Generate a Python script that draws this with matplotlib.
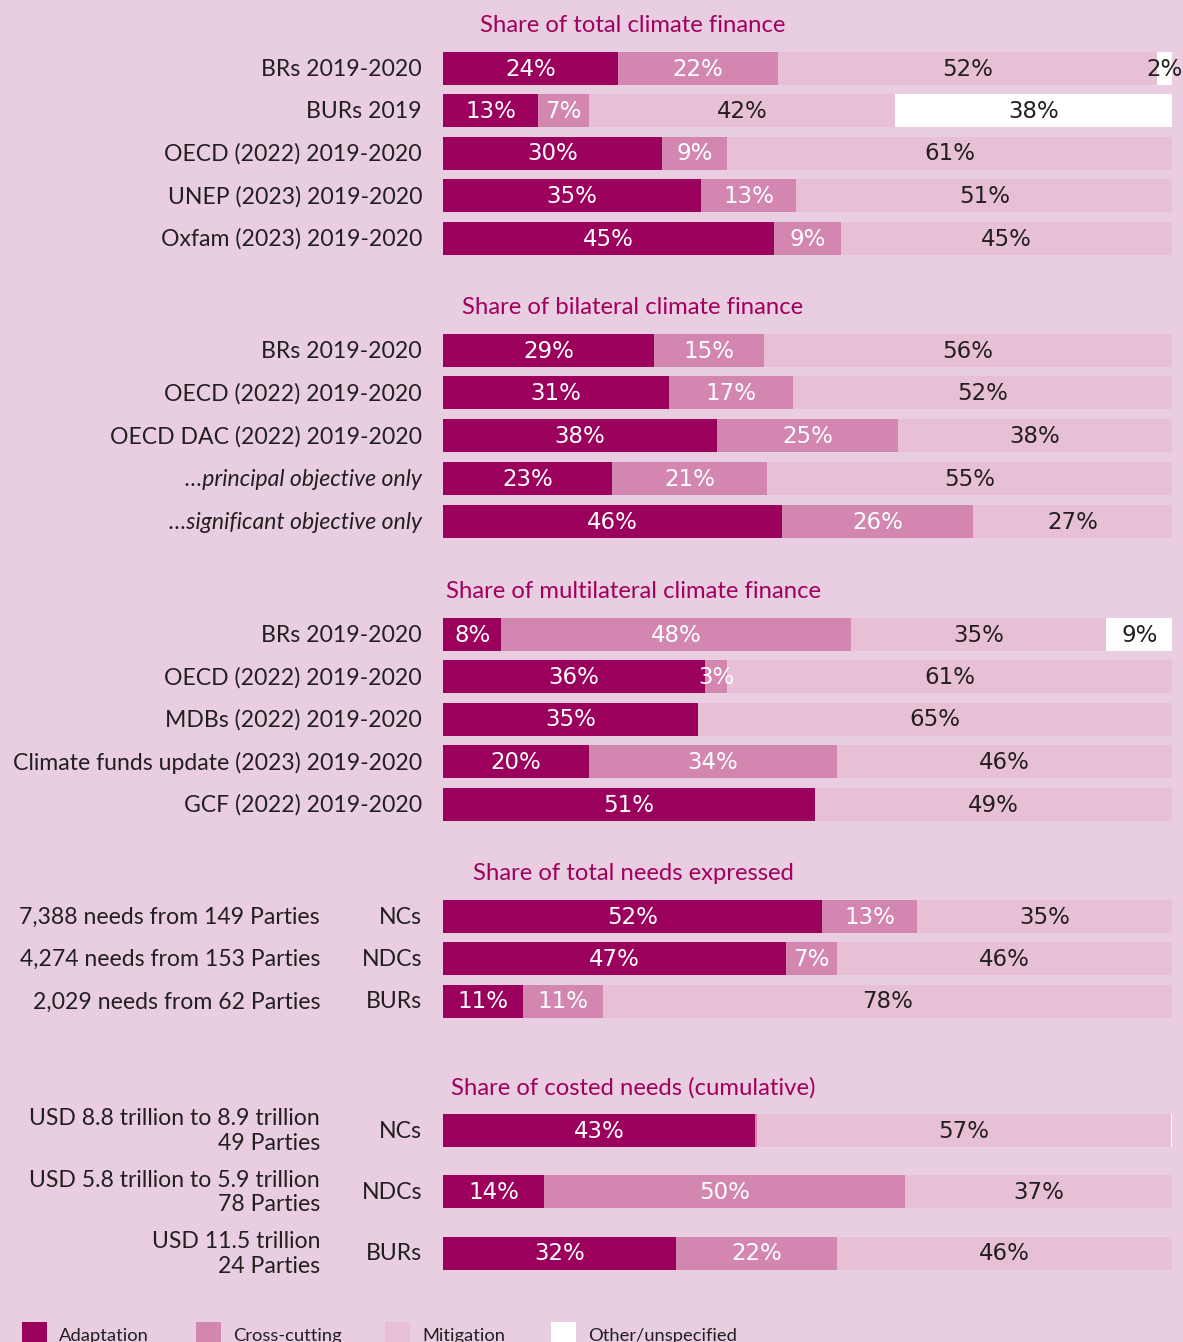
import matplotlib
matplotlib.use("Agg")
import matplotlib.pyplot as plt
from matplotlib.patches import Rectangle
from matplotlib.transforms import blended_transform_factory
import numpy as np

# ---- data ----
titles = ["Share of total climate finance",
          "Share of bilateral climate finance",
          "Share of multilateral climate finance",
          "Share of total needs expressed",
          "Share of costed needs (cumulative)"]

rows1 = ["BRs 2019-2020", "BURs 2019", "OECD (2022) 2019-2020",
         "UNEP (2023) 2019-2020", "Oxfam (2023) 2019-2020"]
adapt1 = [24, 13, 30, 35, 45]
cross1 = [22, 7, 9, 13, 9]
mitig1 = [52, 42, 61, 51, 45]
other1 = [2, 38, 0, 0, 0]

rows2 = ["BRs 2019-2020", "OECD (2022) 2019-2020", "OECD DAC (2022) 2019-2020",
         "\u2026principal objective only", "\u2026significant objective only"]
adapt2 = [29, 31, 38, 23, 46]
cross2 = [15, 17, 25, 21, 26]
mitig2 = [56, 52, 38, 55, 27]
other2 = [0, 0, 0, 0, 0]

rows3 = ["BRs 2019-2020", "OECD (2022) 2019-2020", "MDBs (2022) 2019-2020",
         "Climate funds update (2023) 2019-2020", "GCF (2022) 2019-2020"]
adapt3 = [8, 36, 35, 20, 51]
cross3 = [48, 3, 0, 34, 0]
mitig3 = [35, 61, 65, 46, 49]
other3 = [9, 0, 0, 0, 0]

desc4 = ["7,388 needs from 149 Parties", "4,274 needs from 153 Parties",
         "2,029 needs from 62 Parties"]
type4 = ["NCs", "NDCs", "BURs"]
adapt4 = [52, 47, 11]
cross4 = [13, 7, 11]
mitig4 = [35, 46, 78]
other4 = [0, 0, 0]

desc5 = ["USD 8.8 trillion to 8.9 trillion\n49 Parties",
         "USD 5.8 trillion to 5.9 trillion\n78 Parties",
         "USD 11.5 trillion\n24 Parties"]
type5 = ["NCs", "NDCs", "BURs"]
adapt5 = [43, 14, 32]
cross5 = [0.2, 50, 22]
mitig5 = [57, 37, 46]
other5 = [0.2, 0, 0]

categories = ["Adaptation", "Cross-cutting", "Mitigation", "Other/unspecified"]

# ---- style ----
BG = "#e8cee0"
colors = ["#9c005d", "#d286b0", "#e8c0d6", "#ffffff"]
text_cols = ["white", "white", "#231f20", "#231f20"]
TITLE_COL = "#a0005e"
FONT = "Lato"
PCT_FONT = ["Liberation Sans Narrow", "DejaVu Sans"]

W, H = 1183, 1342
fig = plt.figure(figsize=(W / 100, H / 100), dpi=100, facecolor=BG)
x0, x1 = 443, 1172
ax = fig.add_axes([x0 / W, 0, (x1 - x0) / W, 1])
ax.set_xlim(0, 100)
ax.set_ylim(H, 0)
ax.axis("off")
ax.set_facecolor(BG)

lab_tr = blended_transform_factory(fig.transFigure, ax.transData)

sections = [
    (titles[0], rows1, None, [adapt1, cross1, mitig1, other1], 25, 42.5),
    (titles[1], rows2, None, [adapt2, cross2, mitig2, other2], 307, 42.8),
    (titles[2], rows3, None, [adapt3, cross3, mitig3, other3], 591, 42.5),
    (titles[3], desc4, type4, [adapt4, cross4, mitig4, other4], 873, 42.5),
    (titles[4], desc5, type5, [adapt5, cross5, mitig5, other5], 1087, 61.5),
]

BAR_H = 33
LAB_FS = 16.6
for title, labels, types, series, ty, step in sections:
    ax.text(633 / W, ty + 1, title, transform=lab_tr, ha="center", va="center",
            color=TITLE_COL, fontsize=17.2, family=FONT)
    vals = np.array(series, dtype=float)          # 4 x n
    shares = vals / vals.sum(axis=0) * 100
    ys = ty + 43 + step * np.arange(vals.shape[1])
    left = np.zeros(vals.shape[1])
    for k in range(4):
        ax.barh(ys, shares[k], left=left, height=BAR_H, color=colors[k],
                linewidth=0)
        for j, y in enumerate(ys):
            if vals[k, j] >= 1:
                ax.text(left[j] + shares[k, j] / 2, y + 1, f"{vals[k, j]:.0f}%",
                        ha="center", va="center", color=text_cols[k],
                        fontsize=16.5, family=PCT_FONT)
        left += shares[k]
    for j, y in enumerate(ys):
        italic = labels[j].startswith("\u2026")
        if types is None:
            ax.text(422 / W, y + 1, labels[j], transform=lab_tr, ha="right",
                    va="center", fontsize=LAB_FS, family=FONT, color="#231f20",
                    style="italic" if italic else "normal")
        else:
            ax.text(320 / W, y + 1, labels[j], transform=lab_tr, ha="right",
                    va="center", fontsize=LAB_FS, family=FONT, color="#231f20",
                    linespacing=1.2)
            ax.text(422 / W, y + 1, types[j], transform=lab_tr, ha="right",
                    va="center", fontsize=LAB_FS, family=FONT, color="#231f20")

# ---- legend ----
leg_x = [22, 196, 385, 551]
for k, name in enumerate(categories):
    fig.patches.append(Rectangle((leg_x[k] / W, 0), 25 / W, 20 / H,
                                 transform=fig.transFigure, facecolor=colors[k],
                                 edgecolor="none"))
    fig.text((leg_x[k] + 37) / W, 1.5 / H, name, ha="left", va="baseline",
             fontsize=13.2, family=FONT, color="#231f20")

fig.savefig("out.png", dpi=100, facecolor=BG)
